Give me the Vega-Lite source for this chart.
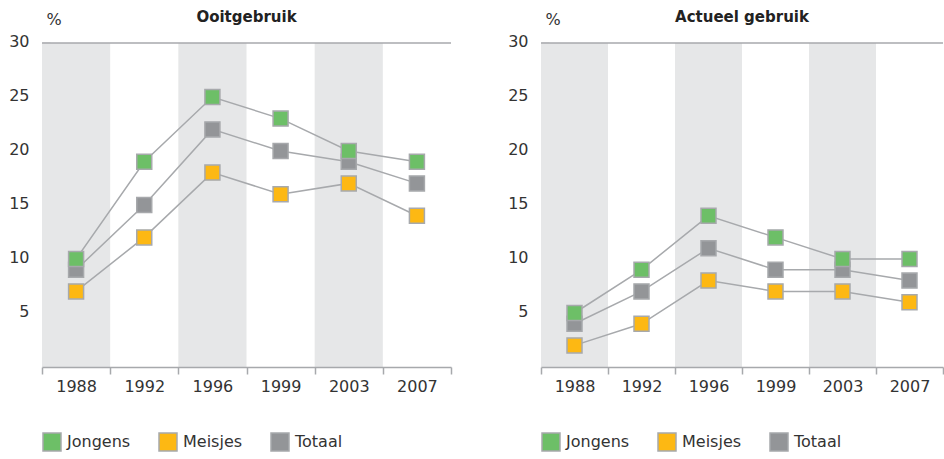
{
  "$schema": "https://vega.github.io/schema/vega-lite/v6.json",
  "padding": {"left": 8, "top": 10, "right": 0, "bottom": 5},
  "background": "white",
  "config": {
    "font": "DejaVu Sans",
    "view": {"stroke": null},
    "axisX": {"domainColor": "#a7a9ac", "domainWidth": 1.5, "tickColor": "#a7a9ac", "tickWidth": 1.5, "tickSize": 7, "tickBand": "extent", "labelFontSize": 16, "labelColor": "#333333", "labelPadding": 4, "labelAngle": 0, "grid": false},
    "axisY": {"domain": false, "grid": false, "tickColor": "#a7a9ac", "tickWidth": 1.5, "tickSize": -8, "labelPadding": 21, "labelFontSize": 16, "labelColor": "#333333", "labelBaseline": "alphabetic", "labelOffset": 3, "titleAngle": 0, "titleAlign": "left", "titleBaseline": "middle", "titleX": 4, "titleY": -24, "titleFontSize": 16, "titleFontWeight": "normal", "titleColor": "#333333"},
    "title": {"fontSize": 15, "fontWeight": "bold", "color": "#222222", "anchor": "middle", "offset": -14}
  },
  "datasets": {
    "d": [
      {"panel": "Ooitgebruik", "jaar": "1988", "groep": "Totaal", "pct": 9},
      {"panel": "Ooitgebruik", "jaar": "1992", "groep": "Totaal", "pct": 15},
      {"panel": "Ooitgebruik", "jaar": "1996", "groep": "Totaal", "pct": 22},
      {"panel": "Ooitgebruik", "jaar": "1999", "groep": "Totaal", "pct": 20},
      {"panel": "Ooitgebruik", "jaar": "2003", "groep": "Totaal", "pct": 19},
      {"panel": "Ooitgebruik", "jaar": "2007", "groep": "Totaal", "pct": 17},
      {"panel": "Ooitgebruik", "jaar": "1988", "groep": "Meisjes", "pct": 7},
      {"panel": "Ooitgebruik", "jaar": "1992", "groep": "Meisjes", "pct": 12},
      {"panel": "Ooitgebruik", "jaar": "1996", "groep": "Meisjes", "pct": 18},
      {"panel": "Ooitgebruik", "jaar": "1999", "groep": "Meisjes", "pct": 16},
      {"panel": "Ooitgebruik", "jaar": "2003", "groep": "Meisjes", "pct": 17},
      {"panel": "Ooitgebruik", "jaar": "2007", "groep": "Meisjes", "pct": 14},
      {"panel": "Ooitgebruik", "jaar": "1988", "groep": "Jongens", "pct": 10},
      {"panel": "Ooitgebruik", "jaar": "1992", "groep": "Jongens", "pct": 19},
      {"panel": "Ooitgebruik", "jaar": "1996", "groep": "Jongens", "pct": 25},
      {"panel": "Ooitgebruik", "jaar": "1999", "groep": "Jongens", "pct": 23},
      {"panel": "Ooitgebruik", "jaar": "2003", "groep": "Jongens", "pct": 20},
      {"panel": "Ooitgebruik", "jaar": "2007", "groep": "Jongens", "pct": 19},
      {"panel": "Actueel gebruik", "jaar": "1988", "groep": "Totaal", "pct": 4},
      {"panel": "Actueel gebruik", "jaar": "1992", "groep": "Totaal", "pct": 7},
      {"panel": "Actueel gebruik", "jaar": "1996", "groep": "Totaal", "pct": 11},
      {"panel": "Actueel gebruik", "jaar": "1999", "groep": "Totaal", "pct": 9},
      {"panel": "Actueel gebruik", "jaar": "2003", "groep": "Totaal", "pct": 9},
      {"panel": "Actueel gebruik", "jaar": "2007", "groep": "Totaal", "pct": 8},
      {"panel": "Actueel gebruik", "jaar": "1988", "groep": "Meisjes", "pct": 2},
      {"panel": "Actueel gebruik", "jaar": "1992", "groep": "Meisjes", "pct": 4},
      {"panel": "Actueel gebruik", "jaar": "1996", "groep": "Meisjes", "pct": 8},
      {"panel": "Actueel gebruik", "jaar": "1999", "groep": "Meisjes", "pct": 7},
      {"panel": "Actueel gebruik", "jaar": "2003", "groep": "Meisjes", "pct": 7},
      {"panel": "Actueel gebruik", "jaar": "2007", "groep": "Meisjes", "pct": 6},
      {"panel": "Actueel gebruik", "jaar": "1988", "groep": "Jongens", "pct": 5},
      {"panel": "Actueel gebruik", "jaar": "1992", "groep": "Jongens", "pct": 9},
      {"panel": "Actueel gebruik", "jaar": "1996", "groep": "Jongens", "pct": 14},
      {"panel": "Actueel gebruik", "jaar": "1999", "groep": "Jongens", "pct": 12},
      {"panel": "Actueel gebruik", "jaar": "2003", "groep": "Jongens", "pct": 10},
      {"panel": "Actueel gebruik", "jaar": "2007", "groep": "Jongens", "pct": 10}
    ],
    "bands": [{"jaar": "1988"}, {"jaar": "1996"}, {"jaar": "2003"}],
    "top": [{"pct": 30}]
  },
  "spacing": 90,
  "bounds": "flush",
  "resolve": {"legend": {"color": "independent"}},
  "hconcat": [
    {
      "width": 409,
      "height": 324,
      "title": {"text": "Ooitgebruik"},
      "layer": [
        {"data": {"name": "bands"}, "mark": {"type": "rect", "color": "#e6e7e8"}, "encoding": {"x": {"field": "jaar", "type": "ordinal", "title": null, "scale": {"paddingInner": 0, "paddingOuter": 0}}}},
        {"data": {"name": "top"}, "mark": {"type": "rule", "color": "#a7a9ac", "strokeWidth": 1.5}, "encoding": {"y": {"field": "pct", "type": "quantitative", "title": "%", "scale": {"domain": [0, 30], "nice": false}, "axis": {"values": [5, 10, 15, 20, 25, 30]}}}},
        {"data": {"name": "d"}, "transform": [{"filter": "datum.panel === 'Ooitgebruik'"}], "mark": {"type": "line", "color": "#a7a9ac", "strokeWidth": 1.5}, "encoding": {"x": {"field": "jaar", "type": "ordinal", "title": null}, "y": {"field": "pct", "type": "quantitative", "title": "%", "scale": {"domain": [0, 30], "nice": false}}, "detail": {"field": "groep"}}},
        {"data": {"name": "d"}, "transform": [{"filter": "datum.panel === 'Ooitgebruik'"}], "mark": {"type": "point", "shape": "square", "filled": true, "size": 225, "opacity": 1, "stroke": "#a7a9ac", "strokeWidth": 1.5}, "encoding": {"x": {"field": "jaar", "type": "ordinal", "title": null}, "y": {"field": "pct", "type": "quantitative", "title": "%", "scale": {"domain": [0, 30], "nice": false}}, "color": {"field": "groep", "type": "nominal", "scale": {"domain": ["Jongens", "Meisjes", "Totaal"], "range": ["#6dbf67", "#fdb813", "#939598"]}, "legend": {"title": null, "orient": "none", "legendX": 0, "legendY": 389, "direction": "horizontal", "symbolType": "square", "symbolSize": 324, "symbolStrokeColor": "#a7a9ac", "symbolStrokeWidth": 1.5, "symbolOpacity": 1, "labelFontSize": 16, "labelColor": "#333333", "labelOffset": 5, "columnPadding": 25}}}}
      ]
    },
    {
      "width": 402,
      "height": 324,
      "title": {"text": "Actueel gebruik"},
      "layer": [
        {"data": {"name": "bands"}, "mark": {"type": "rect", "color": "#e6e7e8"}, "encoding": {"x": {"field": "jaar", "type": "ordinal", "title": null, "scale": {"paddingInner": 0, "paddingOuter": 0}}}},
        {"data": {"name": "top"}, "mark": {"type": "rule", "color": "#a7a9ac", "strokeWidth": 1.5}, "encoding": {"y": {"field": "pct", "type": "quantitative", "title": "%", "scale": {"domain": [0, 30], "nice": false}, "axis": {"values": [5, 10, 15, 20, 25, 30]}}}},
        {"data": {"name": "d"}, "transform": [{"filter": "datum.panel === 'Actueel gebruik'"}], "mark": {"type": "line", "color": "#a7a9ac", "strokeWidth": 1.5}, "encoding": {"x": {"field": "jaar", "type": "ordinal", "title": null}, "y": {"field": "pct", "type": "quantitative", "title": "%", "scale": {"domain": [0, 30], "nice": false}}, "detail": {"field": "groep"}}},
        {"data": {"name": "d"}, "transform": [{"filter": "datum.panel === 'Actueel gebruik'"}], "mark": {"type": "point", "shape": "square", "filled": true, "size": 225, "opacity": 1, "stroke": "#a7a9ac", "strokeWidth": 1.5}, "encoding": {"x": {"field": "jaar", "type": "ordinal", "title": null}, "y": {"field": "pct", "type": "quantitative", "title": "%", "scale": {"domain": [0, 30], "nice": false}}, "color": {"field": "groep", "type": "nominal", "scale": {"domain": ["Jongens", "Meisjes", "Totaal"], "range": ["#6dbf67", "#fdb813", "#939598"]}, "legend": {"title": null, "orient": "none", "legendX": 0, "legendY": 389, "direction": "horizontal", "symbolType": "square", "symbolSize": 324, "symbolStrokeColor": "#a7a9ac", "symbolStrokeWidth": 1.5, "symbolOpacity": 1, "labelFontSize": 16, "labelColor": "#333333", "labelOffset": 5, "columnPadding": 25}}}}
      ]
    }
  ]
}
